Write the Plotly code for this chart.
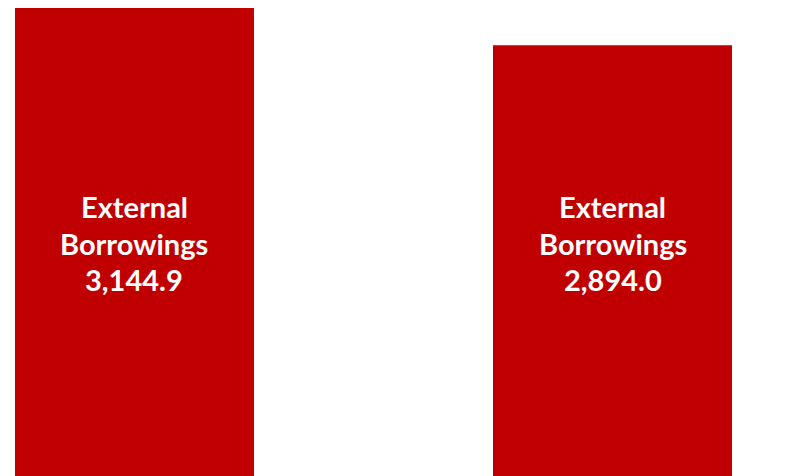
import plotly.graph_objects as go

categories = ["Period 1", "Period 2"]
label_names = ["External<br>Borrowings", "External<br>Borrowings"]
values = [3144.9, 2894.0]

BAR_COLOR = "#C00000"
x_pos = list(range(len(categories)))

fig = go.Figure()
fig.add_trace(go.Bar(
    x=x_pos, y=values, width=0.5,
    marker=dict(color=BAR_COLOR, line=dict(width=0)),
    hoverinfo="skip", showlegend=False,
))

line_y = [0.584, 0.5063, 0.4286]
for xi, name, v in zip(x_pos, label_names, values):
    lines = name.split("<br>") + [f"{v:,.1f}"]
    for ly, txt in zip(line_y, lines):
        fig.add_annotation(
            x=xi, xref="x", y=ly, yref="paper",
            text=f"<b>{txt}</b>", showarrow=False,
            xanchor="center", yanchor="middle",
            font=dict(family="Lato", size=29, color="white"),
        )

fig.update_layout(
    width=808, height=476,
    margin=dict(l=0, r=0, t=0, b=0),
    paper_bgcolor="white", plot_bgcolor="white",
    xaxis=dict(range=[-0.2646, 1.4257], visible=False, fixedrange=True),
    yaxis=dict(range=[-53.8, 3144.9], visible=False, fixedrange=True),
)

fig.write_html("out.html")
